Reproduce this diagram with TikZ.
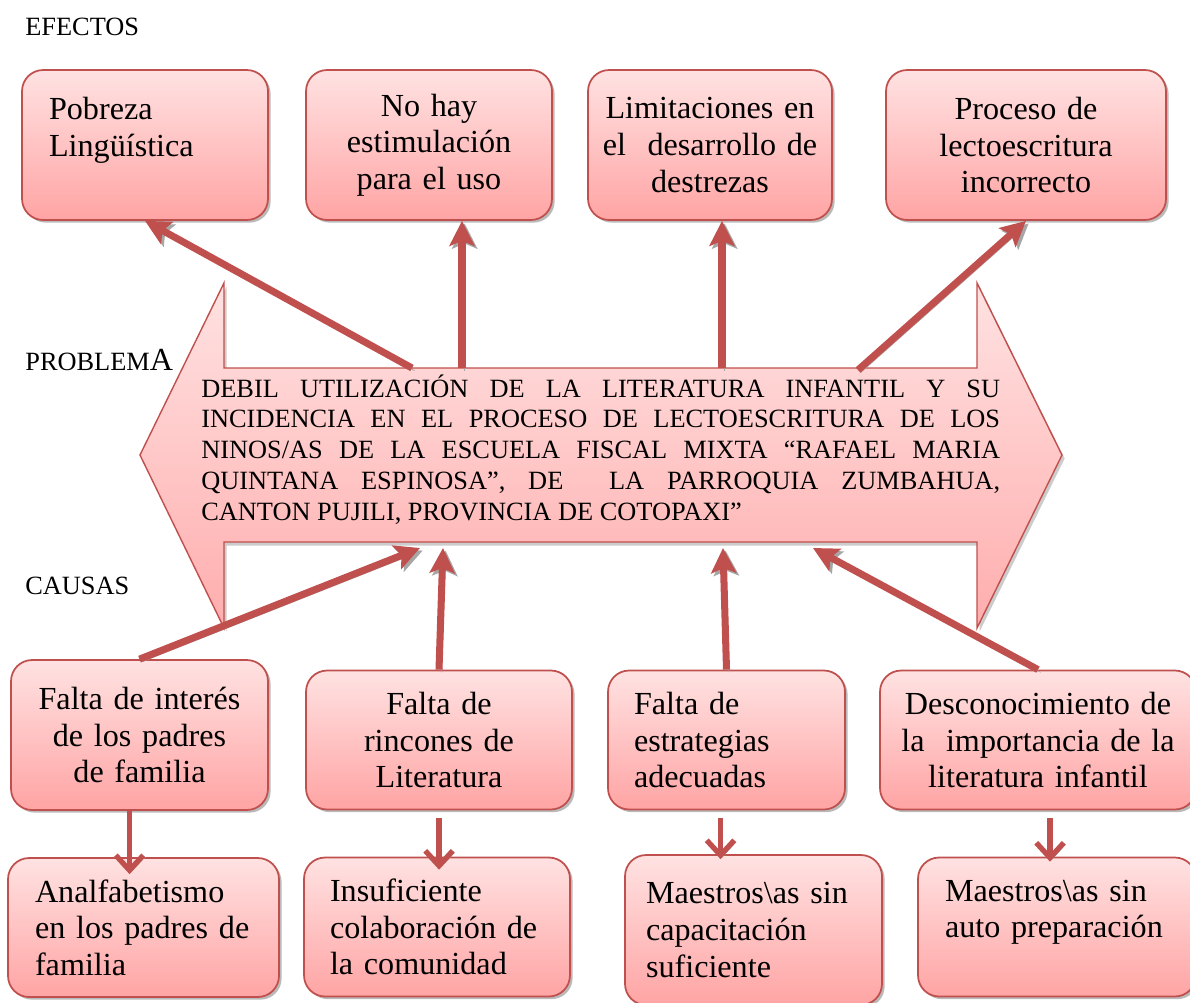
\documentclass[tikz,border=0pt]{standalone}
\usepackage{fontspec}
\setmainfont{Liberation Serif}
\usetikzlibrary{arrows.meta,shadows,calc}
\definecolor{rojo}{RGB}{192,80,77}
\definecolor{rosaclaro}{RGB}{255,226,226}
\definecolor{rosaoscuro}{RGB}{255,164,164}
\newcommand\fcaja{\fontsize{18.3}{20.8}\selectfont}
\newcommand\fprob{\fontsize{15}{17.6}\selectfont}

\begin{document}
\begin{tikzpicture}[x=0.02cm, y=-0.02cm,
	caja/.style={draw=rojo, line width=1pt, rounded corners=12pt, top color=rosaclaro, bottom color=rosaoscuro,
		drop shadow={shadow xshift=1.5pt, shadow yshift=-1.5pt, fill=black!45, opacity=0.6},
		font=\fcaja, inner sep=0pt, minimum height=3cm},
	centro/.style={align=center, text width=#1},
	izq/.style={align=left, text width=#1},
	flecha/.style={rojo, line width=4pt, -{Stealth[length=0.5cm, width=0.5cm, inset=0.1cm]},
		preaction={draw=black!35, transform canvas={shift={(1.5pt,-1.5pt)}}}},
	bajada/.style={rojo, line width=3pt, -{Straight Barb[length=0.3cm, width=0.55cm]},
		preaction={draw=black!35, transform canvas={shift={(1pt,-1pt)}}}},
	etiqueta/.style={font=\fprob, anchor=base west, inner sep=0pt}]
	%%%%% START %%%%%
	\useasboundingbox (0,0) rectangle (1190,1002);
	
	\node[etiqueta] (efectos) at (25,35) {EFECTOS};
	\node[etiqueta] (problema) at (25,370) {PROBLEM{\fcaja A}};
	\node[etiqueta] (causas) at (25,594) {CAUSAS};
	
	% flecha doble del problema
	\draw[rojo, line width=0.8pt, top color=rosaclaro, bottom color=rosaoscuro!90,
		drop shadow={shadow xshift=1.5pt, shadow yshift=-2pt, fill=black!40, opacity=0.5}]
		(140,455) -- (224,283) -- (224,368) -- (977,368) -- (977,283) -- (1062,455)
		-- (977,628) -- (977,542) -- (224,542) -- (224,628) -- cycle;
	\node[font=\fprob, text width=15.98cm, align=justify, inner sep=0pt, anchor=base west] (prob) at (201,397)
		{\hyphenpenalty=10000 DEBIL UTILIZACIÓN DE LA LITERATURA INFANTIL Y SU\linebreak
		INCIDENCIA EN EL PROCESO DE LECTOESCRITURA DE LOS\linebreak
		NINOS/AS DE LA ESCUELA FISCAL MIXTA “RAFAEL MARIA\linebreak
		QUINTANA ESPINOSA”, DE\ \ LA PARROQUIA ZUMBAHUA,\linebreak
		CANTON PUJILI, PROVINCIA DE COTOPAXI”};
	
	% efectos
	\node[caja, minimum width=4.92cm, izq=3.84cm] (b1) at (145,145) {Pobreza\\Lingüística\\~};
	\node[caja, minimum width=4.92cm, centro=4.4cm] (b2) at (429,145) {No hay\\estimulación\\para el uso};
	\node[caja, minimum width=4.88cm, centro=4.4cm] (b3) at (710,145) {Limitaciones en\\el\ \ desarrollo de\\destrezas};
	\node[caja, minimum width=5.6cm, centro=5.1cm] (b4) at (1026,145) {Proceso de\\lectoescritura\\incorrecto};
	
	% causas
	\node[caja, minimum width=5.14cm, centro=4.6cm] (c1) at (139.5,735) {Falta de interés\\de los padres\\de familia};
	\node[caja, minimum width=5.32cm, minimum height=2.78cm, centro=4.7cm] (c2) at (439,740) {Falta de\\rincones de\\Literatura};
	\node[caja, minimum width=4.74cm, minimum height=2.78cm, izq=3.7cm] (c3) at (726.5,740) {Falta de\\estrategias\\adecuadas};
	\node[caja, minimum width=6.32cm, minimum height=2.78cm, centro=5.8cm] (c4) at (1038,740) {Desconocimiento de\\la\ \ importancia de la\\literatura infantil};
	
	\node[caja, minimum width=5.42cm, minimum height=2.78cm, izq=4.34cm] (d1) at (143.5,927.5) {Analfabetismo\\en los padres de\\familia};
	\node[caja, minimum width=5.32cm, minimum height=2.78cm, izq=4.28cm] (d2) at (437,927) {Insuficiente\\colaboración de\\la comunidad};
	\node[caja, minimum width=5.14cm, izq=4.3cm] (d3) at (753.5,930) {Maestros\textbackslash as sin\\capacitación\\suficiente};
	\node[caja, minimum width=5.56cm, minimum height=2.78cm, izq=4.48cm] (d4) at (1057,927) {Maestros\textbackslash as sin\\auto preparación\\~};
	
	% puntos sobre la flecha
	\coordinate (e1) at (412,368);
	\coordinate (e2) at (462,368);
	\coordinate (e3) at (722,368);
	\coordinate (e4) at (858,370);
	\coordinate (k1) at (420,548);
	\coordinate (k2) at (443,548);
	\coordinate (k3) at (723,548);
	\coordinate (k4) at (813,548);
	
	\draw[flecha] (e1) -- (b1.south);
	\draw[flecha] (e2) -- (e2 |- b2.south);
	\draw[flecha] (e3) -- (e3 |- b3.south);
	\draw[flecha] (e4) -- (b4.south);
	
	\draw[flecha] (c1.north) -- (k1);
	\draw[flecha] (c2.north) -- (k2);
	\draw[flecha] (c3.north) -- (k3);
	\draw[flecha] (c4.north) -- (k4);
	
	\draw[bajada] ([xshift=-0.2cm]c1.south) -- ($([xshift=-0.2cm]c1.south |- d1.north)+(0,17)$);
	\draw[bajada] ($(c2.south)+(0,8)$) -- ($(c2.south |- d2.north)+(0,13)$);
	\draw[bajada] ($(c3.south)+(-6,8)$) -- ($(c3.south |- d3.north)+(-6,5)$);
	\draw[bajada] ($(c4.south)+(12,8)$) -- ($(c4.south |- d4.north)+(12,5)$);
	%%%%% END %%%%%
\end{tikzpicture}
\end{document}
